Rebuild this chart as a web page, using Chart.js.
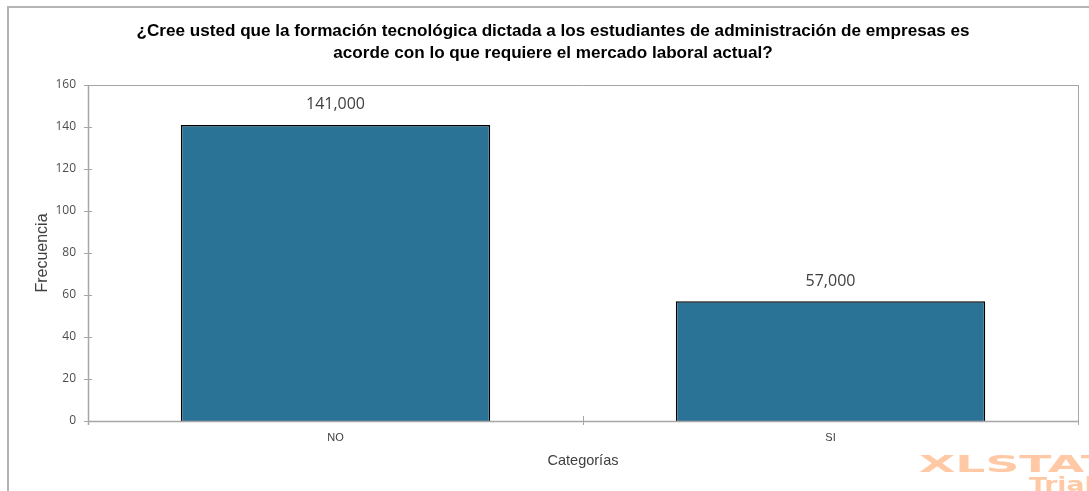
<!DOCTYPE html>
<html>
<head>
<meta charset="utf-8">
<script src="https://cdn.jsdelivr.net/npm/chart.js@4.4.1/dist/chart.umd.min.js"></script>
<style>
  html, body { margin: 0; padding: 0; background: #ffffff; }
  #wrap { width: 1089px; height: 491px; }
</style>
</head>
<body>
<div id="wrap"><canvas id="c" width="1089" height="491"></canvas></div>
<script>
// Survey answers and their frequencies
const categories = ['NO', 'SI'];
const frequencies = [141, 57];
const yTicks = [0, 20, 40, 60, 80, 100, 120, 140, 160];
const titleLines = [
  '¿Cree usted que la formación tecnológica dictada a los estudiantes de administración de empresas es',
  'acorde con lo que requiere el mercado laboral actual?'
];

const BAR_COLOR = '#2B7396';
const AXIS_COLOR = '#A6A6A6';

// Outer frame, plot border, crossing tick marks, labels and watermark
const framePlugin = {
  id: 'frame',
  beforeDraw(chart) {
    const ctx = chart.ctx;
    ctx.save();
    ctx.strokeStyle = '#B4B4B4';
    ctx.lineWidth = 2;
    ctx.beginPath();
    ctx.moveTo(7, 7); ctx.lineTo(1089, 7);
    ctx.moveTo(8, 6); ctx.lineTo(8, 491);
    ctx.stroke();
    ctx.restore();
  },
  afterDatasetsDraw(chart) {
    const {ctx, chartArea: a, scales} = chart;
    ctx.save();
    ctx.strokeStyle = AXIS_COLOR;
    ctx.lineWidth = 1;
    ctx.beginPath();
    // top and right border of the plot area
    ctx.moveTo(a.left, a.top + 0.5); ctx.lineTo(a.right + 0.5, a.top + 0.5);
    ctx.moveTo(a.right + 0.5, a.top); ctx.lineTo(a.right + 0.5, a.bottom + 4);
    ctx.stroke();
    ctx.lineWidth = 1.5;
    ctx.beginPath();
    // axes
    ctx.moveTo(a.left + 0.5, a.top); ctx.lineTo(a.left + 0.5, a.bottom + 4);
    ctx.moveTo(a.left, a.bottom + 0.5); ctx.lineTo(a.right + 0.5, a.bottom + 0.5);
    ctx.stroke();
    ctx.lineWidth = 1;
    ctx.beginPath();
    yTicks.forEach(v => {
      const y = Math.round(scales.y.getPixelForValue(v)) + 0.5;
      ctx.moveTo(a.left - 4, y); ctx.lineTo(a.left + 4, y);
    });
    const n = categories.length;
    for (let i = 0; i <= n; i++) {
      const x = Math.round(a.left + (a.right - a.left) * i / n) + 0.5;
      ctx.moveTo(x, a.bottom - 5); ctx.lineTo(x, a.bottom + 4);
    }
    ctx.stroke();
    ctx.restore();
  },
  afterDraw(chart) {
    const {ctx} = chart;
    const meta = chart.getDatasetMeta(0);
    ctx.save();
    // value labels above the bars
    ctx.fillStyle = '#404040';
    ctx.font = '16px "Open Sans", sans-serif';
    ctx.textAlign = 'center';
    ctx.textBaseline = 'middle';
    meta.data.forEach((bar, i) => {
      const txt = frequencies[i].toFixed(3).replace('.', ',');
      ctx.fillText(txt, bar.x, bar.y - 20);
    });
    // title, condensed bold
    ctx.fillStyle = '#000000';
    ctx.font = 'bold 17px "Liberation Sans", Arial, sans-serif';
    const w0 = ctx.measureText(titleLines[0]).width;
    const sx = 833 / w0;
    titleLines.forEach((line, i) => {
      ctx.save();
      ctx.translate(553, 31 + i * 22);
      ctx.scale(sx, 1);
      ctx.fillText(line, 0, 0);
      ctx.restore();
    });
    // watermark
    ctx.fillStyle = '#FFC9A6';
    ctx.textAlign = 'left';
    ctx.textBaseline = 'alphabetic';
    ctx.save();
    ctx.translate(919, 472);
    ctx.scale(2.05, 1);
    ctx.font = 'bold 23px "DejaVu Sans", sans-serif';
    ctx.fillText('XLSTAT', 0, 0);
    ctx.restore();
    ctx.save();
    ctx.translate(1029, 491);
    ctx.scale(1.4, 1);
    ctx.font = 'bold 19px "DejaVu Sans", sans-serif';
    ctx.fillText('Trial', 0, 0);
    ctx.restore();
    ctx.restore();
  }
};

new Chart(document.getElementById('c'), {
  type: 'bar',
  data: {
    labels: categories,
    datasets: [{
      data: frequencies,
      backgroundColor: BAR_COLOR,
      borderColor: '#000000',
      borderWidth: 1.5,
      categoryPercentage: 0.625,
      barPercentage: 1.0
    }]
  },
  options: {
    responsive: false,
    animation: false,
    devicePixelRatio: 1,
    layout: { padding: { top: 85, left: 0, right: 11, bottom: 0 } },
    plugins: {
      legend: { display: false },
      tooltip: { enabled: false },
      title: { display: false }
    },
    scales: {
      x: {
        grid: { display: false, drawTicks: false },
        border: { display: false },
        ticks: {
          color: '#404040',
          padding: 10,
          font: { family: '"Liberation Sans", Arial, sans-serif', size: 11 }
        },
        title: {
          display: true,
          text: 'Categorías',
          color: '#404040',
          font: { family: '"Liberation Sans", Arial, sans-serif', size: 14.5 },
          padding: { top: 0, bottom: 21 }
        },
        afterFit(s) { s.height = 70; }
      },
      y: {
        min: 0,
        max: 160,
        afterBuildTicks(s) { s.ticks = yTicks.map(v => ({ value: v })); },
        grid: { display: false, drawTicks: false },
        border: { display: false },
        ticks: {
          color: '#4D4D4D',
          padding: 12,
          font: { family: '"Open Sans", sans-serif', size: 12 }
        },
        title: {
          display: true,
          text: 'Frecuencia',
          color: '#404040',
          font: { family: '"Liberation Sans", Arial, sans-serif', size: 16 },
          padding: { top: 33, bottom: 0 }
        },
        afterFit(s) { s.width = 88; }
      }
    }
  },
  plugins: [framePlugin]
});
</script>
</body>
</html>
